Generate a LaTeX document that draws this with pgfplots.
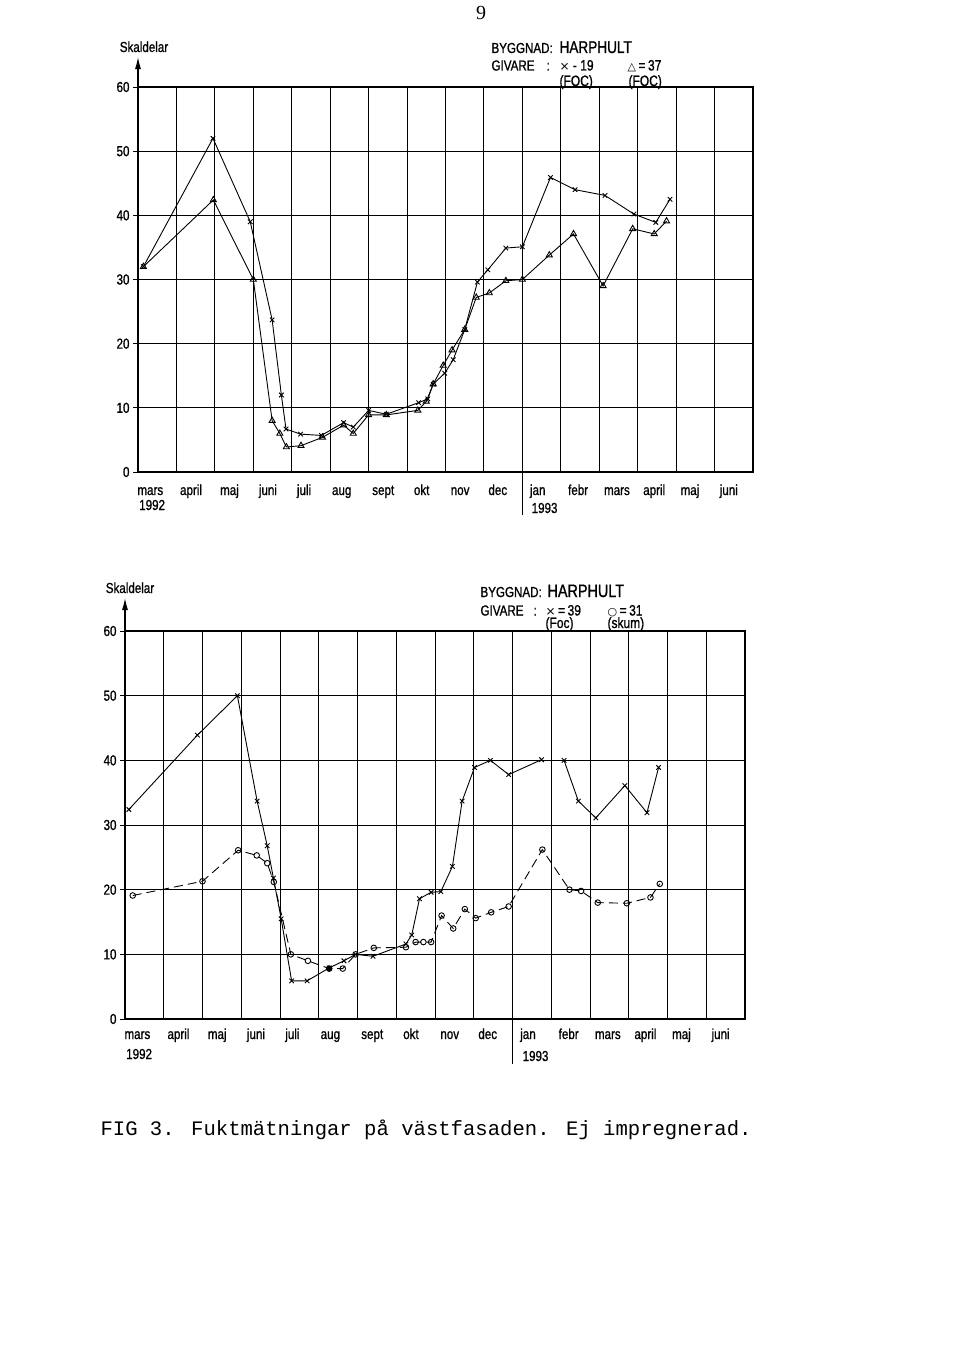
\documentclass[border=0pt]{standalone}
\usepackage{pgfplots}
\pgfplotsset{compat=1.18}
\usetikzlibrary{arrows.meta}
\usepackage{fontspec}
\setmainfont{Liberation Sans}
\newfontfamily\tech[FakeStretch=0.8,FakeBold=1]{Liberation Sans}
\newfontfamily\symf{DejaVu Sans}
\newfontfamily\mono{Liberation Mono}
\newfontfamily\serif{Liberation Serif}

\newcommand\lab{\tech\fontsize{14.5}{16}\selectfont}
\newcommand\hand{\tech\fontsize{15}{17}\selectfont}

% month names under the columns, #1 = distance below the x axis
\newcommand\monthrow[1]{%
  \node[font=\lab,anchor=base,yshift=-#1] at (axis cs:0.32,0) {mars};
  \node[font=\lab,anchor=base,yshift=-#1] at (axis cs:1.38,0) {april};
  \node[font=\lab,anchor=base,yshift=-#1] at (axis cs:2.38,0) {maj};
  \node[font=\lab,anchor=base,yshift=-#1] at (axis cs:3.38,0) {juni};
  \node[font=\lab,anchor=base,yshift=-#1] at (axis cs:4.32,0) {juli};
  \node[font=\lab,anchor=base,yshift=-#1] at (axis cs:5.3,0) {aug};
  \node[font=\lab,anchor=base,yshift=-#1] at (axis cs:6.38,0) {sept};
  \node[font=\lab,anchor=base,yshift=-#1] at (axis cs:7.38,0) {okt};
  \node[font=\lab,anchor=base,yshift=-#1] at (axis cs:8.38,0) {nov};
  \node[font=\lab,anchor=base,yshift=-#1] at (axis cs:9.36,0) {dec};
  \node[font=\lab,anchor=base,yshift=-#1] at (axis cs:10.4,0) {jan};
  \node[font=\lab,anchor=base,yshift=-#1] at (axis cs:11.45,0) {febr};
  \node[font=\lab,anchor=base,yshift=-#1] at (axis cs:12.46,0) {mars};
  \node[font=\lab,anchor=base,yshift=-#1] at (axis cs:13.43,0) {april};
  \node[font=\lab,anchor=base,yshift=-#1] at (axis cs:14.36,0) {maj};
  \node[font=\lab,anchor=base,yshift=-#1] at (axis cs:15.37,0) {juni};
}

\pgfplotsset{
  harp/.style={
    scale only axis,
    anchor=south west,
    xmin=0, xmax=16, ymin=0, ymax=60,
    xtick={0,1,...,16}, xticklabels={},
    ytick={0,10,...,60},
    grid=major,
    grid style={black, line width=1pt},
    axis line style={black, line width=1.2pt},
    major tick length=0pt,
    yticklabel style={font=\lab, xshift=-5pt},
    /pgf/number format/assume math mode=true,
    clip=false,
  },
  series/.style={black, line width=0.9pt},
}

\begin{document}
\begin{tikzpicture}[x=1pt,y=1pt]
\path[use as bounding box] (0,0) rectangle (960,-1356);
\coordinate (topsw) at (138,-472);
\coordinate (botsw) at (125,-1019);

\node[font=\serif\fontsize{20}{22}\selectfont, anchor=base] at (481,-20) {9};

% ---------------- upper chart: givare 19 and 37
\begin{axis}[harp, at={(topsw)}, width=615pt, height=385pt]
\pgfplotsinvokeforeach{0,10,...,60}{\draw[line width=1pt] (axis cs:0,#1) -- ++(-5pt,0);}
\draw[line width=1.2pt, -{Latex[length=12pt,width=6pt]}] (axis cs:0,60) -- ++(0,30pt);
\draw[line width=1pt] (axis cs:10,0) -- ++(0,-43pt);
\monthrow{23pt}
\node[font=\lab,anchor=base west,yshift=-38pt] at (axis cs:-0.06,0) {1992};
\node[font=\lab,anchor=base west,yshift=-41pt] at (axis cs:10.15,0) {1993};

% x = 19 (FOC)
\addplot[series, mark=x, mark size=3.2pt] coordinates {
(0.14,32.0) (1.95,52.0) (2.92,39.0) (3.49,23.7) (3.73,12.0) (3.85,6.7)
(4.23,5.9) (4.77,5.7) (5.35,7.7) (5.6,7.0) (6.0,9.6) (6.46,9.0)
(7.3,10.8) (7.54,11.4) (7.68,13.7) (7.98,15.4) (8.2,17.5) (8.5,22.2)
(8.83,29.6) (9.1,31.5) (9.57,34.9) (10.0,35.1) (10.73,45.9) (11.37,44.0)
(12.15,43.1) (12.9,40.2) (13.47,38.9) (13.84,42.5)
};
% triangle = 37 (FOC)
\addplot[series, mark=triangle, mark size=3.5pt] coordinates {
(0.14,32.0) (1.96,42.4) (3.0,30.0) (3.49,8.0) (3.69,6.0) (3.86,3.9)
(4.24,4.1) (4.8,5.4) (5.35,7.3) (5.6,6.0) (6.0,8.9) (6.46,8.9)
(7.28,9.6) (7.5,11.0) (7.68,13.7) (7.94,16.6) (8.17,19.0) (8.5,22.2)
(8.8,27.2) (9.14,27.9) (9.57,29.8) (10.0,30.0) (10.7,33.8) (11.33,37.1)
(12.1,29.0) (12.87,37.9) (13.43,37.1) (13.75,39.1)
};
\end{axis}

\node[font=\lab, anchor=base] at (144,-52) {Skaldelar};
\node[font=\lab, anchor=base west] at (488,-53) {BYGGNAD:};
\node[font=\tech\fontsize{17}{19}\selectfont, anchor=base west] at (556,-53) {HARPHULT};
\node[font=\lab, anchor=base west] at (488,-70.5) {GIVARE};
\node[font=\lab, anchor=base west] at (543,-70.5) {:};
\node[font=\hand, anchor=base west] at (556,-70.5) {{\symf\fontsize{12}{12}\selectfont ×} - 19};
\node[font=\hand, anchor=base west] at (624,-70.5) {{\symf\fontsize{11}{12}\selectfont △}\,=\,37};
\node[font=\hand, anchor=base west] at (556,-86) {(FOC)};
\node[font=\hand, anchor=base west] at (625,-86) {(FOC)};

% ---------------- lower chart: givare 39 and 31
\begin{axis}[harp, at={(botsw)}, width=620pt, height=388pt]
\pgfplotsinvokeforeach{0,10,...,60}{\draw[line width=1pt] (axis cs:0,#1) -- ++(-5pt,0);}
\draw[line width=1.2pt, -{Latex[length=12pt,width=6pt]}] (axis cs:0,60) -- ++(0,33pt);
\draw[line width=1pt] (axis cs:10,0) -- ++(0,-45pt);
\monthrow{20pt}
\node[font=\lab,anchor=base west,yshift=-40pt] at (axis cs:-0.06,0) {1992};
\node[font=\lab,anchor=base west,yshift=-42pt] at (axis cs:10.17,0) {1993};

% x = 39 (FOC)
\addplot[series, mark=x, mark size=3.2pt, unbounded coords=jump] coordinates {
(0.1,32.4) (1.87,43.9) (2.9,50.0) (3.41,33.7) (3.67,26.8) (3.83,21.8)
(4.03,15.5) (4.3,5.9) (4.7,5.9) (5.27,7.9) (5.65,9.0) (5.95,10.0)
(6.4,9.7) (7.25,11.6) (7.4,13.0) (7.6,18.6) (7.9,19.6) (8.15,19.7)
(8.45,23.6) (8.7,33.7) (9.02,38.9) (9.43,40.0) (9.9,37.8) (10.75,40.1)
(11.0,nan)
(11.33,40.0) (11.7,33.7) (12.15,31.1) (12.9,36.1) (13.47,31.9) (13.77,38.9)
};
% o = 31 (skum)
\addplot[series, dash pattern=on 9pt off 5pt, mark=o, mark size=2.8pt,
  mark options={solid}] coordinates {
(0.2,19.1) (2.0,21.3) (2.92,26.1) (3.4,25.3) (3.67,24.1) (3.84,21.2)
(4.28,10.0) (4.72,9.0) (5.27,7.8) (5.62,7.8) (5.95,10.0) (6.42,11.0)
(7.25,11.1) (7.5,11.9) (7.7,11.9) (7.9,11.9) (8.17,16.0) (8.47,14.0)
(8.77,17.0) (9.05,15.6) (9.45,16.5) (9.9,17.4) (10.77,26.2) (11.47,20.0)
(11.77,19.8) (12.2,18.0) (12.95,17.9) (13.56,18.8) (13.8,20.9)
};
\addplot[only marks, mark=*, mark size=2.8pt, black] coordinates {(5.27,7.8)};
\end{axis}

\node[font=\lab, anchor=base] at (130,-593) {Skaldelar};
\node[font=\lab, anchor=base west] at (477,-597) {BYGGNAD:};
\node[font=\tech\fontsize{18}{20}\selectfont, anchor=base west] at (544,-597) {HARPHULT};
\node[font=\lab, anchor=base west] at (477,-615.5) {GIVARE};
\node[font=\lab, anchor=base west] at (530,-615.5) {:};
\node[font=\hand, anchor=base west] at (542,-615.5) {{\symf\fontsize{12}{12}\selectfont ×}\,=\,39};
\node[font=\hand, anchor=base west] at (604,-615.5) {{\symf\fontsize{11}{12}\selectfont ○}\,=\,31};
\node[font=\hand, anchor=base west] at (542,-628) {(Foc)};
\node[font=\hand, anchor=base west] at (604,-628) {(skum)};

\node[font=\mono\fontsize{20.6}{22}\selectfont, anchor=base west] at (97,-1135)
  {FIG 3. Fuktmätningar på västfasaden. Ej impregnerad.};
\end{tikzpicture}
\end{document}
